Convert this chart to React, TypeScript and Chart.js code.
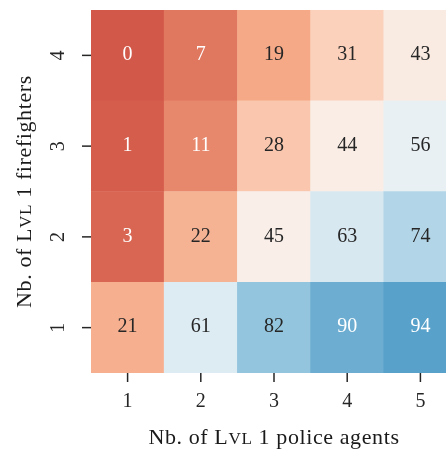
import React, { useEffect, useRef } from 'react';
import { Chart, registerables } from 'chart.js';

Chart.register(...registerables);

// Categories
const policeAgents = ['1', '2', '3', '4', '5'];
const firefighters = ['1', '2', '3', '4'];

// Values (rows = number of Lvl 1 firefighters, columns = number of Lvl 1 police agents)
const firefighters1 = [21, 61, 82, 90, 94];
const firefighters2 = [3, 22, 45, 63, 74];
const firefighters3 = [1, 11, 28, 44, 56];
const firefighters4 = [0, 7, 19, 31, 43];
const rowValues = [firefighters1, firefighters2, firefighters3, firefighters4];

const FONT = '"Liberation Serif", "Times New Roman", serif';

// RdBu colormap
const RDBU = ['#67001f', '#b2182b', '#d6604d', '#f4a582', '#fddbc7', '#f7f7f7', '#d1e5f0', '#92c5de', '#4393c3', '#2166ac', '#053061'];

function hexToRgb(h: string) {
  return [parseInt(h.slice(1, 3), 16), parseInt(h.slice(3, 5), 16), parseInt(h.slice(5, 7), 16)];
}

function cmap(v: number) {
  const t = Math.max(0, Math.min(1, 0.19 + v * 0.0062));
  const pos = t * (RDBU.length - 1);
  const i = Math.min(RDBU.length - 2, Math.floor(pos));
  const f = pos - i;
  const a = hexToRgb(RDBU[i]);
  const b = hexToRgb(RDBU[i + 1]);
  return [0, 1, 2].map((k) => Math.round(a[k] + (b[k] - a[k]) * f));
}

function rgbStr(c: number[]) {
  return `rgb(${c[0]},${c[1]},${c[2]})`;
}

function luminance(c: number[]) {
  const lin = c.map((x) => {
    const s = x / 255;
    return s <= 0.03928 ? s / 12.92 : Math.pow((s + 0.055) / 1.055, 2.4);
  });
  return 0.2126 * lin[0] + 0.7152 * lin[1] + 0.0722 * lin[2];
}

type Seg = { text: string; size: number };

function drawMixed(ctx: CanvasRenderingContext2D, segs: Seg[], cx: number, cy: number, spacing: number) {
  let total = 0;
  (ctx as any).letterSpacing = `${spacing}px`;
  const widths = segs.map((s) => {
    ctx.font = `${s.size}px ${FONT}`;
    const w = ctx.measureText(s.text).width;
    total += w;
    return w;
  });
  let x = cx - total / 2;
  ctx.textAlign = 'left';
  ctx.textBaseline = 'alphabetic';
  segs.forEach((s, i) => {
    ctx.font = `${s.size}px ${FONT}`;
    ctx.fillText(s.text, x, cy);
    x += widths[i];
  });
  (ctx as any).letterSpacing = '0px';
}

const VS = 20; // value & tick font size
const TS = 22; // title font size
const xTitleSegs: Seg[] = [
  { text: 'Nb. of L', size: TS },
  { text: 'VL', size: TS * 0.78 },
  { text: ' 1 police agents', size: TS },
];
const yTitleSegs: Seg[] = [
  { text: 'Nb. of L', size: TS },
  { text: 'VL', size: TS * 0.78 },
  { text: ' 1 firefighters', size: TS },
];

const overlay = {
  id: 'overlay',
  afterDatasetsDraw(chart: any) {
    const ctx: CanvasRenderingContext2D = chart.ctx;
    const xs = chart.scales.x;
    const ys = chart.scales.y;
    const area = chart.chartArea;
    ctx.save();

    // cell values
    ctx.textAlign = 'center';
    ctx.textBaseline = 'middle';
    ctx.font = `${VS}px ${FONT}`;
    rowValues.forEach((row, r) => {
      const meta = chart.getDatasetMeta(r);
      row.forEach((v, c) => {
        const el = meta.data[c];
        const col = cmap(v);
        ctx.fillStyle = luminance(col) > 0.408 ? '#262626' : '#ffffff';
        ctx.fillText(String(v), el.x, (el.y + el.base) / 2 - 0.5);
      });
    });

    // ticks
    ctx.strokeStyle = '#262626';
    ctx.lineWidth = 1.5;
    ctx.fillStyle = '#262626';
    policeAgents.forEach((lab, i) => {
      const x = xs.getPixelForValue(i);
      ctx.beginPath();
      ctx.moveTo(x, area.bottom);
      ctx.lineTo(x, area.bottom + 9);
      ctx.stroke();
      ctx.textAlign = 'center';
      ctx.textBaseline = 'middle';
      ctx.font = `${VS}px ${FONT}`;
      ctx.fillText(lab, x, area.bottom + 28.5);
    });
    firefighters.forEach((lab, i) => {
      const y = ys.getPixelForValue(i + 0.5);
      ctx.beginPath();
      ctx.moveTo(area.left - 9, y);
      ctx.lineTo(area.left, y);
      ctx.stroke();
      ctx.save();
      ctx.translate(area.left - 32, y);
      ctx.rotate(-Math.PI / 2);
      ctx.textAlign = 'center';
      ctx.textBaseline = 'middle';
      ctx.font = `${VS}px ${FONT}`;
      ctx.fillText(lab, 0, 0);
      ctx.restore();
    });

    // axis titles
    ctx.fillStyle = '#1a1a1a';
    drawMixed(ctx, xTitleSegs, (area.left + area.right) / 2, 444, 0.6);
    ctx.save();
    ctx.translate(31, (area.top + area.bottom) / 2);
    ctx.rotate(-Math.PI / 2);
    drawMixed(ctx, yTitleSegs, 0, 0, 0.6);
    ctx.restore();

    ctx.restore();
  },
};

export default function App() {
  const ref = useRef<HTMLCanvasElement>(null);
  useEffect(() => {
    document.body.style.margin = '0';
    if (!ref.current) return;
    const datasets = rowValues.map((row, r) => ({
      label: firefighters[r],
      data: row.map(() => 1),
      backgroundColor: row.map((v) => rgbStr(cmap(v))),
      borderWidth: 0,
      barPercentage: 1,
      categoryPercentage: 1,
    }));
    const chart = new Chart(ref.current, {
      type: 'bar',
      data: { labels: policeAgents, datasets },
      options: {
        animation: false,
        responsive: false,
        devicePixelRatio: 1,
        layout: { padding: { left: 91, top: 10, right: 3, bottom: 78 } },
        plugins: { legend: { display: false }, tooltip: { enabled: false } },
        scales: {
          x: { display: false, stacked: true, offset: true },
          y: { display: false, stacked: true, min: 0, max: firefighters.length },
        },
      },
      plugins: [overlay],
    });
    return () => chart.destroy();
  }, []);
  return (
    <div style={{ width: 446, height: 451, overflow: 'hidden' }}>
      <canvas ref={ref} width={460} height={451} style={{ display: 'block', width: 460, height: 451 }} />
    </div>
  );
}
